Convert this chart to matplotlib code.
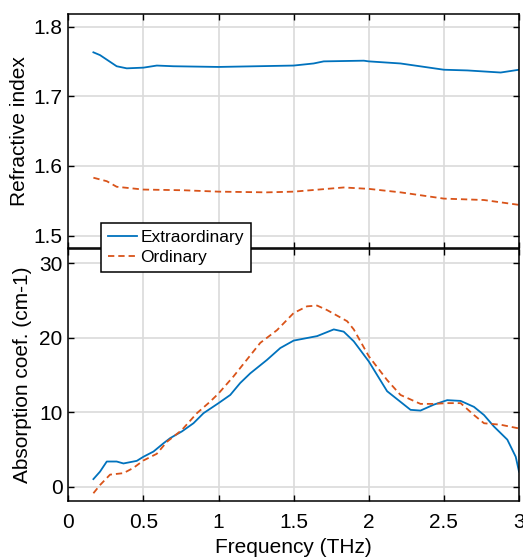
"""
Refractive index and absorption coefficient vs frequency (two stacked panels).
"""

import matplotlib
matplotlib.use('Agg')
import matplotlib.pyplot as plt
from matplotlib.ticker import FormatStrFormatter

plt.rcParams['font.family'] = ['Liberation Sans', 'DejaVu Sans']

blue = '#0072BD'
orange = '#D95319'

# refractive index, extraordinary / ordinary
n_e_freq = [0.167, 0.211, 0.322, 0.389, 0.5, 0.589, 0.7, 1.0, 1.5, 1.633, 1.7, 1.967, 2.0, 2.211, 2.5, 2.656, 2.878, 3.0]
n_e = [1.763, 1.759, 1.743, 1.740, 1.741, 1.744, 1.743, 1.742, 1.744, 1.747, 1.750, 1.751, 1.750, 1.747, 1.738, 1.737, 1.734, 1.738]
n_o_freq = [0.167, 0.256, 0.322, 0.5, 0.767, 1.0, 1.322, 1.5, 1.833, 2.0, 2.211, 2.5, 2.767, 3.0]
n_o = [1.583, 1.578, 1.570, 1.566, 1.565, 1.563, 1.562, 1.563, 1.569, 1.567, 1.562, 1.553, 1.551, 1.544]

# absorption coefficient (cm-1)
a_e_freq = [0.167, 0.211, 0.256, 0.322, 0.367, 0.456, 0.5, 0.567, 0.633, 0.678, 0.756, 0.833,
            0.9, 1.0, 1.078, 1.144, 1.211, 1.322, 1.411, 1.5, 1.656, 1.767, 1.833, 1.9, 2.0,
            2.122, 2.278, 2.344, 2.433, 2.522, 2.611, 2.7, 2.767, 2.833, 2.922, 2.978, 3.0]
a_e = [1.0, 2.0, 3.36, 3.36, 3.1, 3.45, 4.0, 4.7, 5.8, 6.5, 7.4, 8.5,
       9.85, 11.2, 12.3, 13.9, 15.2, 17.0, 18.6, 19.6, 20.2, 21.1, 20.8, 19.5, 16.8,
       12.8, 10.3, 10.2, 11.0, 11.6, 11.5, 10.7, 9.6, 8.06, 6.3, 4.0, 2.0]
a_o_freq = [0.167, 0.211, 0.278, 0.367, 0.433, 0.5, 0.589, 0.656, 0.756, 0.856, 0.944, 1.0,
            1.1, 1.278, 1.389, 1.5, 1.589, 1.656, 1.722, 1.856, 1.9, 2.0, 2.122, 2.211,
            2.344, 2.433, 2.522, 2.611, 2.7, 2.767, 2.878, 3.0]
a_o = [-0.9, 0.2, 1.6, 1.8, 2.5, 3.5, 4.4, 6.0, 7.6, 9.85, 11.4, 12.5,
       14.8, 19.3, 21.0, 23.3, 24.2, 24.3, 23.7, 22.2, 21.1, 17.5, 14.3, 12.3,
       11.1, 11.1, 11.2, 11.2, 9.6, 8.5, 8.3, 7.8]

x_ticks = [0, 0.5, 1, 1.5, 2, 2.5, 3]

fig = plt.figure(figsize=(5.23, 5.6), dpi=100)
ax1 = fig.add_axes([0.1306, 0.557, 0.8618, 0.418])
ax2 = fig.add_axes([0.1306, 0.1059, 0.8618, 0.4495])

for ax in (ax1, ax2):
    ax.set_xlim(0, 3)
    ax.set_xticks(x_ticks)
    ax.xaxis.set_major_formatter(FormatStrFormatter('%g'))
    ax.grid(True, color='#dadada', linewidth=1.2)
    ax.set_axisbelow(True)
    ax.tick_params(direction='in', top=True, right=True, length=4, width=1,
                   labelsize=15, pad=4)
    for s in ax.spines.values():
        s.set_linewidth(1.1)

ax1.plot(n_e_freq, n_e, color=blue, lw=1.3, label='Extraordinary')
ax1.plot(n_o_freq, n_o, color=orange, lw=1.3, dashes=(3.5, 2.2), label='Ordinary')
ax1.set_ylim(1.482, 1.818)
ax1.set_yticks([1.5, 1.6, 1.7, 1.8])
ax1.yaxis.set_major_formatter(FormatStrFormatter('%g'))
ax1.tick_params(axis='x', labelbottom=False)
ax1.set_ylabel('Refractive index', fontsize=15)
ax1.yaxis.set_label_coords(-0.087, 0.5)

ax2.plot(a_e_freq, a_e, color=blue, lw=1.3)
ax2.plot(a_o_freq, a_o, color=orange, lw=1.3, dashes=(3.5, 2.2))
ax2.set_ylim(-1.9, 31.9)
ax2.set_yticks([0, 10, 20, 30])
ax2.tick_params(axis='x', pad=9)
ax2.set_ylabel('Absorption coef. (cm-1)', fontsize=15)
ax2.yaxis.set_label_coords(-0.080, 0.5)
ax2.set_xlabel('Frequency (THz)', fontsize=15)

h, l = ax1.get_legend_handles_labels()
leg = fig.legend(h, l, loc='upper left', bbox_to_anchor=(0.1925, 0.6013),
                 bbox_transform=fig.transFigure, fontsize=12.5, fancybox=False,
                 framealpha=1, edgecolor='black', borderaxespad=0,
                 handlelength=1.7, handletextpad=0.2, borderpad=0.4,
                 labelspacing=0.25)
leg.get_frame().set_linewidth(1.1)
leg.set_zorder(10)

fig.savefig('out.png', dpi=100)
